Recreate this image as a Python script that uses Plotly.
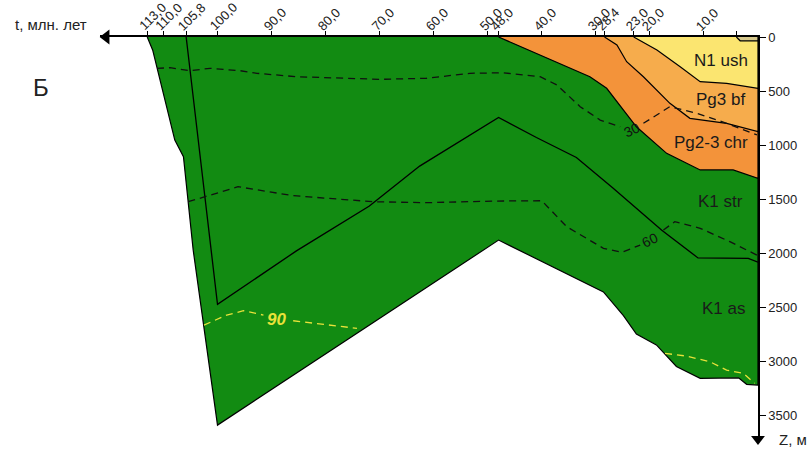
import plotly.graph_objects as go

# ---- data (age in Ma, depth in m) ----
age_ticks = [113.0, 110.0, 105.8, 100.0, 90.0, 80.0, 70.0, 60.0, 50.0, 48.0, 40.0, 30.0, 28.4, 23.0, 20.0, 10.0, 4.0]
age_tick_text = ["113,0", "110,0", "105,8", "100,0", "90,0", "80,0", "70,0", "60,0", "50,0", "48,0",
                 "40,0", "30,0", "28,4", "23,0", "20,0", "10,0", ""]
depth_ticks = [0, 500, 1000, 1500, 2000, 2500, 3000, 3500]

# base of K1 as (bottom of section)
k1as_age = [113, 112.0, 107.9, 106.3, 104.5, 100, 48, 28.6, 24.9, 22.5, 18.8, 15.1, 10.7, 3.6, 2.1, 0]
k1as_depth = [0, 120, 954, 1108, 1972, 3593, 1880, 2360, 2580, 2750, 2850, 3050, 3160, 3155, 3215, 3222]
# base of K1 str
k1str_age = [105.8, 100, 85.4, 71.9, 62.6, 48, 41.0, 33.6, 26.9, 17.8, 11.1, 1.8, 0]
k1str_depth = [0, 2475, 1980, 1565, 1195, 745, 930, 1115, 1395, 1790, 2045, 2050, 2085]
# base of Pg2-3 chr
pg23_age = [48, 39.8, 31.1, 28.0, 22.5, 16.9, 10.7, 4.6, 0]
pg23_depth = [0, 182, 368, 475, 831, 1077, 1231, 1231, 1308]
# base of Pg3 bf
pg3_age = [28.4, 26.1, 24.3, 21.2, 16.3, 12.6, 5.8, 0]
pg3_depth = [0, 74, 229, 368, 614, 753, 799, 877]
# base of N1 ush
n1_age = [23, 18.7, 14.4, 10.7, 5.8, 0]
n1_depth = [0, 120, 275, 414, 429, 475]
# base of Q
q_age = [4.0, 3.3, 0]
q_depth = [0, 35, 35]

# isotherms
iso30_age = [111.2, 108.8, 105.1, 101.4, 95.8, 92.7, 85.3, 69.9, 61.3, 53.3, 47.1, 40.3, 37.2, 32.9, 29.2, 25.5,
             None, 21.2, 16.3, 11.3, 5.8, 0.2]
iso30_depth = [290, 284, 312, 290, 312, 336, 368, 392, 382, 336, 331, 368, 444, 645, 769, 831,
               None, 799, 645, 706, 799, 907]
iso60_age = [105.4, 101.4, 96.2, 86.0, 79.2, 71.2, 61.3, 49.0, 40.0, 35.4, 28.6, 25.2, 21.8,
             None, 17.5, 15.4, 10.7, 5.2, 0.2]
iso60_depth = [1525, 1463, 1386, 1469, 1494, 1525, 1534, 1519, 1516, 1756, 1956, 1994, 1926,
               None, 1787, 1710, 1771, 1895, 2019]
iso90a_age = [102.5, 98.3, 95.2, 91.5, None, 86.0, 79.2, 74.2]
iso90a_depth = [2667, 2574, 2534, 2574, None, 2627, 2667, 2697]
iso90b_age = [17.2, 13.2, 8.9, 5.8, 2.7, 0.6]
iso90b_depth = [2929, 2954, 3006, 3083, 3114, 3206]

layer_names = ["N1 ush", "Pg3 bf", "Pg2-3 chr", "K1 str", "K1 as"]
layer_label_age = [6.8, 7.0, 8.7, 7.0, 6.3]
layer_label_depth = [222, 574, 972, 1519, 2509]

GREEN = "rgb(18,139,18)"
ORANGE = "rgb(243,147,58)"
LORANGE = "rgb(246,172,76)"
YELLOW = "rgb(251,229,112)"
TAN = "rgb(214,200,140)"
FONT = "Liberation Sans, Arial, sans-serif"

fig = go.Figure()

def poly(ages, depths, color):
    fig.add_trace(go.Scatter(x=ages + [0], y=depths + [0], mode="lines", fill="toself",
                             fillcolor=color, line=dict(color="black", width=1.2),
                             hoverinfo="skip", showlegend=False))

poly(k1as_age, k1as_depth, GREEN)
poly(pg23_age, pg23_depth, ORANGE)
poly(pg3_age, pg3_depth, LORANGE)
poly(n1_age, n1_depth, YELLOW)
poly(q_age, q_depth, TAN)

fig.add_trace(go.Scatter(x=k1str_age, y=k1str_depth, mode="lines",
                         line=dict(color="black", width=1.3), hoverinfo="skip", showlegend=False))

for a, d, c in [(iso30_age, iso30_depth, "#111"), (iso60_age, iso60_depth, "#111"),
                (iso90a_age, iso90a_depth, "#e8e23a"), (iso90b_age, iso90b_depth, "#e8e23a")]:
    fig.add_trace(go.Scatter(x=a, y=d, mode="lines", connectgaps=False,
                             line=dict(color=c, width=1.3, dash="7px,5px"),
                             hoverinfo="skip", showlegend=False))

# axis arrows
fig.add_trace(go.Scatter(x=[120.6], y=[0], mode="markers", cliponaxis=False,
                         marker=dict(symbol="triangle-left", size=13, color="black"),
                         hoverinfo="skip", showlegend=False))
fig.add_trace(go.Scatter(x=[0], y=[3722], mode="markers", cliponaxis=False,
                         marker=dict(symbol="triangle-down", size=12, color="black"),
                         hoverinfo="skip", showlegend=False))

ann = []
# rotated time tick labels
for a, t in zip(age_ticks, age_tick_text):
    if t:
        ann.append(dict(x=a, y=1, xref="x", yref="paper", text=t, showarrow=False, textangle=-45,
                        xanchor="left", yanchor="bottom", xshift=-14, yshift=1,
                        font=dict(size=13, color="#222", family=FONT)))
for n, a, d in zip(layer_names, layer_label_age, layer_label_depth):
    ann.append(dict(x=a, y=d, text=n, showarrow=False, font=dict(size=17, color="#1a1a1a", family=FONT)))
ann.append(dict(x=23.4, y=861, text="30", showarrow=False, textangle=-25,
                font=dict(size=14, color="#111", family=FONT)))
ann.append(dict(x=20.0, y=1880, text="60", showarrow=False, textangle=-25,
                font=dict(size=14, color="#111", family=FONT)))
ann.append(dict(x=89.0, y=2611, text="<b><i>90</i></b>", showarrow=False,
                font=dict(size=17, color="#e8e23a", family=FONT)))
ann.append(dict(x=-0.1322, y=1.032, xref="paper", yref="paper", text="t, млн. лет", showarrow=False,
                xanchor="left", yanchor="middle", font=dict(size=15, color="#222", family=FONT)))
ann.append(dict(x=-0.0897, y=0.876, xref="paper", yref="paper", text="Б", showarrow=False,
                xanchor="center", yanchor="middle", font=dict(size=24, color="#222", family=FONT)))
ann.append(dict(x=1.0533, y=3722, xref="paper", yref="y", text="Z, м", showarrow=False,
                xanchor="center", yanchor="middle", font=dict(size=15, color="#222", family=FONT)))

fig.update_layout(
    width=810, height=452,
    margin=dict(l=100, r=52, t=37, b=11.1),
    paper_bgcolor="white", plot_bgcolor="white",
    showlegend=False,
    annotations=ann,
    xaxis=dict(range=[121.74, 0], side="top", tickvals=age_ticks, showticklabels=False,
               ticks="outside", ticklen=4, tickwidth=1, tickcolor="black",
               showline=True, linewidth=2, linecolor="black", showgrid=False, zeroline=False,
               automargin=False),
    yaxis=dict(range=[3740, 0], side="right", tickvals=depth_ticks,
               ticks="outside", ticklen=6, tickwidth=1, tickcolor="black",
               showline=True, linewidth=1.5, linecolor="black", showgrid=False, zeroline=False,
               automargin=False, tickfont=dict(size=13, color="#222", family=FONT)),
)

fig.write_html("out.html", config={"displayModeBar": False},
               post_script="document.body.style.margin='0';document.body.style.overflow='hidden';")
